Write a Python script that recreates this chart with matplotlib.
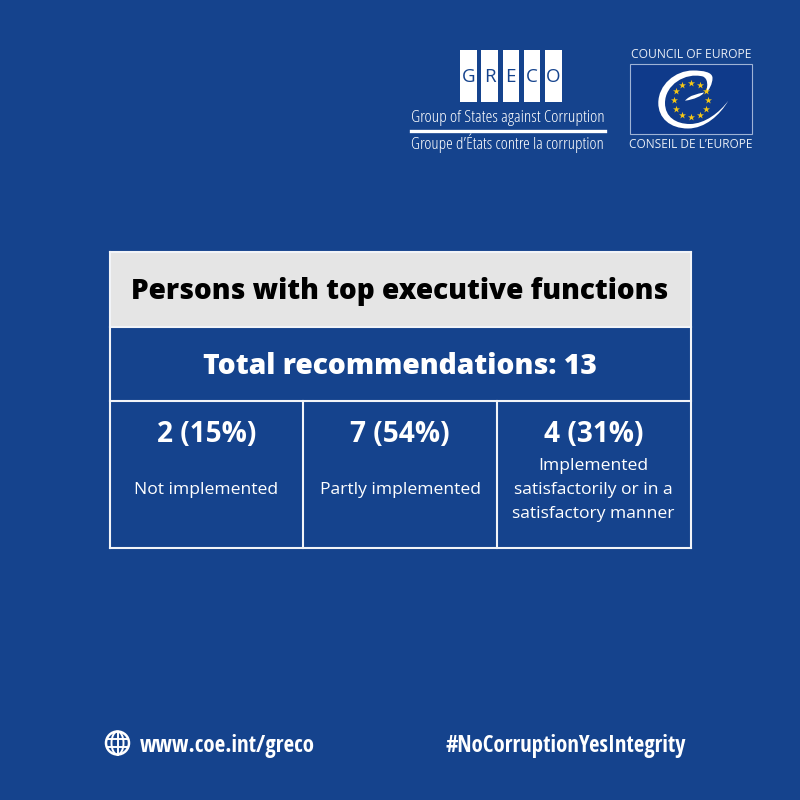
import matplotlib
matplotlib.use('Agg')
import matplotlib.pyplot as plt
import numpy as np
from matplotlib.patches import Rectangle, Circle, Ellipse, PathPatch
from matplotlib.path import Path

BLUE = '#15438d'
DARK = '#0f3a8a'
GREY = '#e5e5e5'
LINE = '#f2f4f8'
FONT = 'Open Sans'

title = 'Persons with top executive functions'
total_label = 'Total recommendations: 13'
counts = [2, 7, 4]
shares = [15, 54, 31]
statuses = ['Not implemented', 'Partly implemented',
            'Implemented\nsatisfactorily or in a\nsatisfactory manner']
greco_letters = ['G', 'R', 'E', 'C', 'O']
website = 'www.coe.int/greco'
hashtag = '#NoCorruptionYesIntegrity'

fig = plt.figure(figsize=(8, 8), dpi=100, facecolor=BLUE)
ax = fig.add_axes([0, 0, 1, 1])
ax.set_xlim(0, 800)
ax.set_ylim(800, 0)
ax.axis('off')

# table
left, right = 109.5, 690.5
rows = [251.5, 326.5, 401, 548]
cols = [left, 303, 497, right]
ax.add_patch(Rectangle((left, rows[0]), right - left, rows[1] - rows[0], fc=GREY, ec='none'))
for y in rows:
    ax.plot([left, right], [y, y], color=LINE, lw=1.5, solid_capstyle='projecting')
ax.plot([left, left], [rows[0], rows[3]], color=LINE, lw=1.5)
ax.plot([right, right], [rows[0], rows[3]], color=LINE, lw=1.5)
for x in cols[1:3]:
    ax.plot([x, x], [rows[2], rows[3]], color=LINE, lw=1.5)

ax.text(400, 291, title, ha='center', va='center', family=FONT, weight=800,
        fontsize=20.15, color='black')
ax.text(400, 366, total_label, ha='center', va='center', family=FONT, weight=800,
        fontsize=20.35, color='white')

for i in range(3):
    cx = (cols[i] + cols[i + 1]) / 2
    ax.text(cx, 435, f'{counts[i]} ({shares[i]}%)', ha='center', va='center',
            family=FONT, weight='bold', fontsize=20.2, color='white')
    ax.text(cx, 490, statuses[i], ha='center', va='center', family=FONT,
            fontsize=12.6, color='white', linespacing=1.65)

# greco logo
for i, letter in enumerate(greco_letters):
    x0 = 460 + i * 21.25
    ax.add_patch(Rectangle((x0, 50), 16.5, 51.5, fc='white', ec='none'))
    ax.text(x0 + 8.25, 76.5, letter, ha='center', va='center', family=FONT,
            fontsize=13.5, color=BLUE)
ax.text(411, 118, 'Group of States against Corruption', ha='left', va='center',
        family=FONT, fontsize=12.5, weight=300, stretch='condensed', color='white')
ax.plot([411, 604.5], [131, 131], color='white', lw=2.4)
ax.text(411, 143, "Groupe d\u2019\u00c9tats contre la corruption", ha='left', va='center',
        family=FONT, fontsize=12.3, weight=300, stretch='condensed', color='white')

# council of europe logo
ax.text(691, 55, 'COUNCIL OF EUROPE', ha='center', va='center', family=FONT,
        fontsize=8.75, color='#e8edf5')
ax.text(691, 144, "CONSEIL DE L\u2019EUROPE", ha='center', va='center', family=FONT,
        fontsize=8.6, color='#e8edf5')
ax.add_patch(Rectangle((630, 64), 122, 70, fc=DARK, ec='#9fb3d6', lw=0.8))
verts = [(728.3, 100.7),
         (720, 115), (705, 128.5), (688, 128.5),
         (670, 128.5), (658.3, 118), (658.3, 103),
         (658.3, 85), (675, 70.5), (693, 70.5),
         (703, 70.5), (712.5, 72), (712.5, 78),
         (712.5, 84), (709, 90), (706, 93),
         (708, 85), (708, 79), (703, 76.5),
         (685, 72), (665, 85), (665, 103),
         (665, 117), (676, 124), (690, 124),
         (705, 124), (720, 112), (728.3, 100.7)]
codes = [Path.MOVETO] + [Path.CURVE4] * 27
ax.add_patch(PathPatch(Path(verts, codes), fc='white', ec='none'))
swoosh = [(685, 100.7), (690, 95), (697, 94), (704, 92.5), (702, 96), (694, 99.5), (685, 100.7)]
ax.add_patch(PathPatch(Path(swoosh, [Path.MOVETO] + [Path.CURVE4] * 6), fc='white', ec='none'))
star_angles = np.arange(12) * 30.0
star_x = 691 + 17.4 * np.cos(np.radians(star_angles))
star_y = 100 + 17.4 * np.sin(np.radians(star_angles))
ax.scatter(star_x, star_y, marker='*', s=28, color='#f7c815', linewidths=0, zorder=3)

# footer
ax.add_patch(Circle((117.5, 743), 11.5, fc='none', ec='white', lw=1.8))
ax.add_patch(Ellipse((117.5, 743), 12, 23, fc='none', ec='white', lw=1.4))
ax.plot([107, 128], [739, 739], color='white', lw=1.4)
ax.plot([107, 128], [747, 747], color='white', lw=1.4)
ax.plot([117.5, 117.5], [731.5, 754.5], color='white', lw=1.4)
ax.text(140, 746, website, ha='left', va='center', family='Open Sans Condensed', weight='bold',
        fontsize=16.5, color='white')
ax.text(686, 746, hashtag, ha='right', va='center', family='Open Sans Condensed', weight='bold',
        fontsize=16.4, color='white')

fig.savefig('out.png', dpi=100, facecolor=BLUE)
